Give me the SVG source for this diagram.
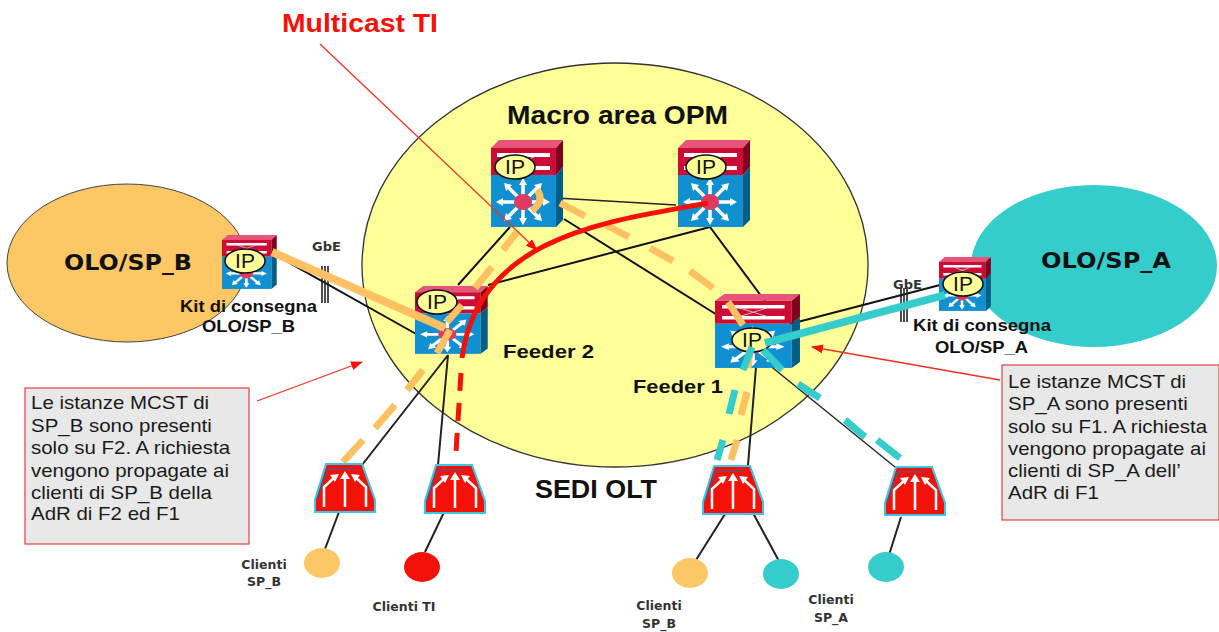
<svg xmlns="http://www.w3.org/2000/svg" width="1219" height="632" viewBox="0 0 1219 632">
<style>
text{font-family:"Liberation Sans",Arial,sans-serif;fill:#111}
.b{font-weight:bold}
.d{font-family:"DejaVu Sans",Verdana,sans-serif;font-weight:bold;fill:#333}
.box{font-size:17.5px;fill:#1a1a1a}
.ip{font-size:21px;text-anchor:middle}
.bk{fill:none;stroke:#111;stroke-width:2}
.th{fill:none;stroke:#222;stroke-width:1.3}
.tk{fill:none;stroke:#222;stroke-width:1.6}
.cl{fill:none;stroke:#222;stroke-width:2}
.or{fill:none;stroke:#fdc163;stroke-width:7}
.os{fill:none;stroke:#fdc163;stroke-width:8}
.te{fill:none;stroke:#35cccc;stroke-width:7}
.ts{fill:none;stroke:#35cccc;stroke-width:8}
.rd{fill:none;stroke:#f41208;stroke-width:5}
.tn{fill:none;stroke:#f03020;stroke-width:1.3}
.ie{fill:#ffff99;stroke:#111;stroke-width:1.5}
</style>
<defs>
<marker id="ah" markerWidth="12" markerHeight="9" refX="11" refY="4.5" orient="auto" markerUnits="userSpaceOnUse"><path d="M0 0L12 4.5L0 9z" fill="#f41208"/></marker>
<g id="rt">
<path d="M0 8L8 0H72L65 8z" fill="#e8557a"/>
<rect x="0" y="8" width="65" height="27" fill="#cc0c35"/>
<path d="M65 8L72 0V27L65 35z" fill="#800020"/>
<rect x="0" y="35" width="65" height="52" fill="#1090d0"/>
<path d="M65 35L72 27V80L65 87z" fill="#005f88"/>
<path d="M6 15H59M6 28H59" stroke="#fff" stroke-width="4"/>
<path d="M20 16L45 27M45 16L20 27" stroke="#ddd" stroke-width="1"/>
<path d="M32 62L32 44M32 62L32 80M32 62L10 62M32 62L54 62M32 62L17 47M32 62L47 47M32 62L17 77M32 62L47 77" stroke="#fff" stroke-width="3.5"/>
<path d="M32 38L36 45H28zM32 85L36 78H28zM5 62L12 58V66zM59 62L52 58V66zM13 43L21 45L15 51zM51 43L43 45L49 51zM13 81L21 79L15 73zM51 81L43 79L49 73z" fill="#fff"/>
<ellipse cx="32" cy="62" rx="9" ry="8" fill="#e03a60"/>
</g>
<g id="olt">
<path d="M11 1H47L60 37V49H0V37z" fill="#f41208" stroke="#35c8e8" stroke-width="2"/>
<path d="M2 36L13 6H40" fill="none" stroke="#3060a0" stroke-width="1.2"/>
<path d="M9 44V24L20 14M30 44V13M51 44V24L40 14" fill="none" stroke="#fff" stroke-width="2.5"/>
<path d="M15 12L24 11L20 19zM30 8L35 16H25zM45 12L36 11L40 19z" fill="#fff"/>
</g>
</defs>

<ellipse cx="127" cy="263" rx="120" ry="79" fill="#fdc765" stroke="#444"/>
<ellipse cx="1094" cy="266" rx="123" ry="81" fill="#35cccc"/>
<ellipse cx="615" cy="265" rx="253" ry="202" fill="#ffff99" stroke="#333" stroke-width="1.3"/>

<g id="connectors">
<path class="th" d="M556 198L676 205"/>
<path class="bk" d="M510 227L458 285M564 219L722 318M710 227L488 285M710 227L770 308"/>
<path class="bk" d="M270 252L418 335M790 324L940 285"/>
<path class="tk" d="M322 266V303M325 266V303M328 266V303M901 288V322M904 288V322M907 288V322"/>
<path class="cl" d="M448 355L362 465M448 355L438 465M757 355L748 465"/>
<path class="th" d="M757 355L895 467"/>
<path class="cl" d="M339 512L325 549M447 506L425 552M725 514L696 560M753 513L780 563M901 517L889 555"/>
</g>

<g id="node-r1"><use href="#rt" transform="translate(491,140)"/><ellipse class="ie" cx="515" cy="167" rx="20" ry="12"/><text class="ip" x="515" y="174">IP</text></g>
<g id="node-r2"><use href="#rt" transform="translate(678,140)"/><ellipse class="ie" cx="706" cy="167" rx="20" ry="12"/><text class="ip" x="706" y="174">IP</text></g>
<g id="node-f2"><use href="#rt" transform="translate(415,286) scale(1.01,.78)"/><ellipse class="ie" cx="437" cy="302" rx="20" ry="12"/><text class="ip" x="437" y="309">IP</text></g>
<g id="node-f1"><use href="#rt" transform="translate(715,294) scale(1.18,.85)"/><ellipse class="ie" cx="752" cy="340" rx="20" ry="12"/><text class="ip" x="752" y="347">IP</text></g>
<g id="node-kb"><use href="#rt" transform="translate(222,235) scale(.76,.62)"/><ellipse class="ie" cx="245" cy="261" rx="20" ry="12"/><text class="ip" x="245" y="268">IP</text></g>
<g id="node-ka"><use href="#rt" transform="translate(939,257) scale(.72,.62)"/><ellipse class="ie" cx="963" cy="284" rx="20" ry="12"/><text class="ip" x="963" y="291">IP</text></g>

<g id="flows">
<path class="os" d="M272 252L445 328"/>
<path class="or" d="M537 190Q545 200 532 211"/>
<path class="or" d="M560 203L585 216M606 225L629 237M650 248L673 261M690 271L713 288M728 302L743 325M750 350L748 368M747 392L741 415M737 440L731 460"/>
<path class="or" d="M517 232L503 250M492 267L475 288M462 305L447 322M450 330L437 353M423 370L407 390M395 405L375 428M363 440L343 462"/>
<path class="rd" d="M708 203C620 220 478 232 462 358"/>
<path class="rd" stroke-dasharray="18 12" d="M461 373L456 452"/>
<path class="ts" d="M765 343L945 295"/>
<path class="te" d="M752 347L743 370M735 390L729 414M723 440L717 460M763 350L782 370M798 384L820 398M845 420L865 437M877 440L900 458"/>
</g>

<g id="node-o1"><use href="#olt" transform="translate(315,463)"/></g>
<g id="node-o2"><use href="#olt" transform="translate(425,464)"/></g>
<g id="node-o3"><use href="#olt" transform="translate(703,465)"/></g>
<g id="node-o4"><use href="#olt" transform="translate(885,466)"/></g>
<ellipse id="node-c1" cx="322" cy="563" rx="18" ry="15" fill="#fdc765"/>
<ellipse id="node-c2" cx="422" cy="567" rx="18" ry="15" fill="#f41208"/>
<ellipse id="node-c3" cx="690" cy="573" rx="18" ry="15" fill="#fdc765"/>
<ellipse id="node-c4" cx="781" cy="574" rx="18" ry="15" fill="#35cccc"/>
<ellipse id="node-c5" cx="886" cy="567" rx="18" ry="15" fill="#35cccc"/>

<g id="annotations">
<path class="tn" marker-end="url(#ah)" d="M320 44L537 250"/>
<path class="tn" marker-end="url(#ah)" d="M257 401L362 362"/>
<path class="tn" marker-end="url(#ah)" d="M1000 380L812 347"/>
</g>

<g id="note-b"><rect x="25" y="388" width="224" height="156" fill="#e8e8e8" stroke="#e05050" stroke-width="1.3"/>
<g transform="translate(31,0) scale(1.17,1)"><text class="box" y="409">Le istanze MCST di</text><text class="box" y="432">SP_B sono presenti</text><text class="box" y="454">solo su F2. A richiesta</text><text class="box" y="477">vengono propagate ai</text><text class="box" y="499">clienti di SP_B della</text><text class="box" y="520">AdR di F2 ed F1</text></g></g>
<g id="note-a"><rect x="1002" y="365" width="217" height="155" fill="#e8e8e8" stroke="#e05050" stroke-width="1.3"/>
<g transform="translate(1008,0) scale(1.17,1)"><text class="box" y="388">Le istanze MCST di</text><text class="box" y="410">SP_A sono presenti</text><text class="box" y="433">solo su F1. A richiesta</text><text class="box" y="455">vengono propagate ai</text><text class="box" y="477">clienti di SP_A dell’</text><text class="box" y="499">AdR di F1</text></g></g>

<g id="labels">
<text class="b" x="282" y="32" font-size="25" textLength="156" lengthAdjust="spacingAndGlyphs" style="fill:#f41208">Multicast TI</text>
<text class="b" x="507" y="124" font-size="26" textLength="221" lengthAdjust="spacingAndGlyphs">Macro area OPM</text>
<text class="d" x="64" y="270" font-size="22" textLength="128" lengthAdjust="spacingAndGlyphs" style="fill:#111">OLO/SP_B</text>
<text class="d" x="1041" y="268" font-size="22" textLength="130" lengthAdjust="spacingAndGlyphs" style="fill:#111">OLO/SP_A</text>
<text class="d" x="312" y="251" font-size="13">GbE</text>
<text class="d" x="893" y="289" font-size="13">GbE</text>
<text class="b" x="180" y="312" font-size="17" textLength="137" lengthAdjust="spacingAndGlyphs">Kit di consegna</text>
<text class="b" x="202" y="332" font-size="17" textLength="93" lengthAdjust="spacingAndGlyphs">OLO/SP_B</text>
<text class="b" x="913" y="331" font-size="17" textLength="138" lengthAdjust="spacingAndGlyphs">Kit di consegna</text>
<text class="b" x="935" y="353" font-size="17" textLength="93" lengthAdjust="spacingAndGlyphs">OLO/SP_A</text>
<text class="b" x="503" y="358" font-size="19" textLength="91" lengthAdjust="spacingAndGlyphs">Feeder 2</text>
<text class="b" x="633" y="393" font-size="19" textLength="90" lengthAdjust="spacingAndGlyphs">Feeder 1</text>
<text class="b" x="535" y="498" font-size="25" textLength="122" lengthAdjust="spacingAndGlyphs">SEDI OLT</text>
<text class="d" x="264" y="569" font-size="12.5" text-anchor="middle">Clienti</text>
<text class="d" x="264" y="586" font-size="12.5" text-anchor="middle">SP_B</text>
<text class="d" x="404" y="611" font-size="12.5" text-anchor="middle">Clienti TI</text>
<text class="d" x="659" y="610" font-size="12.5" text-anchor="middle">Clienti</text>
<text class="d" x="659" y="628" font-size="12.5" text-anchor="middle">SP_B</text>
<text class="d" x="831" y="604" font-size="12.5" text-anchor="middle">Clienti</text>
<text class="d" x="831" y="622" font-size="12.5" text-anchor="middle">SP_A</text>
</g>
</svg>
